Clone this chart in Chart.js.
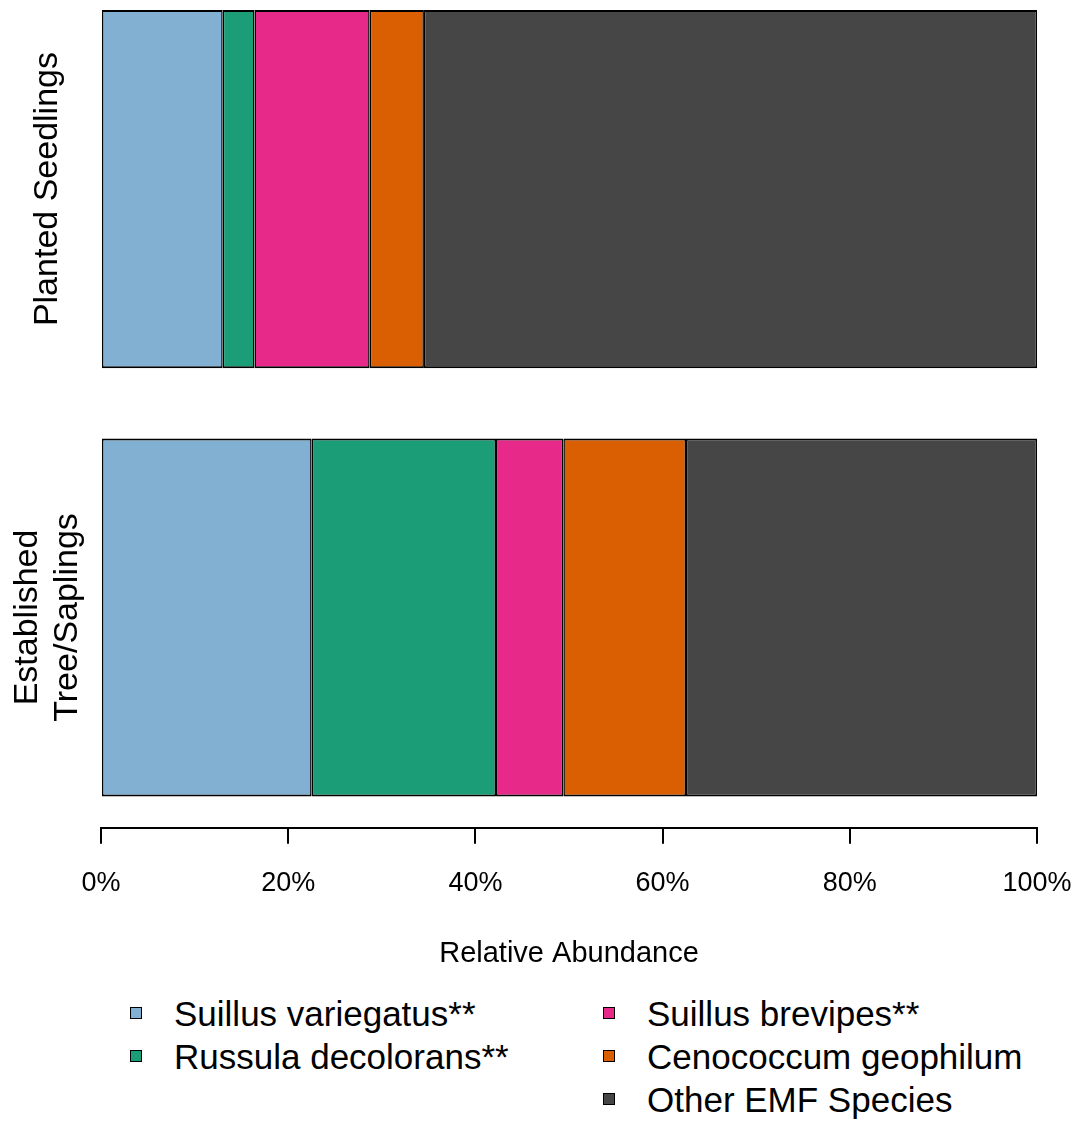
<!DOCTYPE html>
<html><head><meta charset="utf-8">
<script src="https://cdn.jsdelivr.net/npm/chart.js@4/dist/chart.umd.min.js"></script>
<style>
html,body{margin:0;padding:0;background:#fff;}
#wrap{position:relative;width:1091px;height:1126px;overflow:hidden;}
canvas{position:absolute;left:0;top:0;}
#legend{position:absolute;left:0;top:992px;width:1091px;font-family:"Liberation Sans",Arial,sans-serif;font-size:35px;color:#000;}
.item{position:absolute;height:43px;line-height:43px;white-space:nowrap;}
.box{position:absolute;left:0;top:15px;width:10px;height:10px;border:1px solid #000;}
.txt{position:absolute;left:44px;top:0;}
</style></head><body>
<div id="wrap"><canvas id="c" width="1091" height="975"></canvas><div id="legend"></div></div>
<script>
// ---- data ----
const categories = ['Planted Seedlings', 'Established\nTree/Saplings'];
const species = ['Suillus variegatus**', 'Russula decolorans**', 'Suillus brevipes**', 'Cenococcum geophilum', 'Other EMF Species'];
const suillusVariegatus = [13.0, 22.5];
const russulaDecolorans = [3.4, 19.7];
const suillusBrevipes = [12.3, 7.2];
const cenococcumGeophilum = [5.8, 13.1];
const otherEMF = [65.5, 37.5];
const xTicks = [0, 20, 40, 60, 80, 100];
const xTitle = 'Relative Abundance';

// ---- styles ----
const colors = ['#82B0D2', '#1B9E77', '#E7298A', '#D95F02', '#464646'];
const FONT = '"Liberation Sans", Arial, sans-serif';
const seriesValues = [suillusVariegatus, russulaDecolorans, suillusBrevipes, cenococcumGeophilum, otherEMF];

const datasets = seriesValues.map((vals, k) => ({
  label: species[k],
  data: vals.map((v, i) => ({ x: v, y: i })),
  backgroundColor: colors[k],
  borderColor: '#000',
  borderWidth: { top: 2, bottom: 2, left: 1.5, right: 1.5 },
  borderSkipped: false,
  categoryPercentage: 1,
  barPercentage: 0.836
}));

const yLabelPlugin = {
  id: 'yLabels',
  afterDraw(chart) {
    const ctx = chart.ctx, ys = chart.scales.y;
    ctx.save();
    ctx.font = '34px ' + FONT;
    ctx.fillStyle = '#000';
    ctx.textAlign = 'center';
    ctx.textBaseline = 'middle';
    categories.forEach((lab, i) => {
      const lines = lab.split('\n');
      const py = ys.getPixelForValue(i);
      ctx.save();
      ctx.translate(48, py);
      ctx.rotate(-Math.PI / 2);
      lines.forEach((ln, j) => ctx.fillText(ln, 0, (j - (lines.length - 1) / 2) * 40));
      ctx.restore();
    });
    ctx.restore();
  }
};

const chart = new Chart(document.getElementById('c'), {
  type: 'bar',
  data: { datasets },
  options: {
    responsive: false,
    animation: false,
    devicePixelRatio: 1,
    indexAxis: 'y',
    layout: { padding: { left: 101, right: 54, top: 10, bottom: 4 } },
    plugins: { legend: { display: false }, tooltip: { enabled: false } },
    scales: {
      x: {
        type: 'linear', min: 0, max: 100, stacked: true,
        afterBuildTicks: s => { s.ticks = xTicks.map(v => ({ value: v })); },
        afterFit: s => { s.paddingLeft = 0; s.paddingRight = 0; },
        ticks: { callback: v => v + '%', color: '#000', font: { family: FONT, size: 27 }, padding: 24, maxRotation: 0 },
        grid: { drawOnChartArea: false, drawTicks: true, tickLength: 16, color: '#000', lineWidth: 2 },
        border: { display: true, color: '#000', width: 2 },
        title: { display: true, text: xTitle, color: '#000', font: { family: FONT, size: 29 }, padding: { top: 12, bottom: 0 } }
      },
      y: {
        type: 'linear', reverse: true, offset: false, min: -0.418, max: 1.491, stacked: true, display: false,
        afterBuildTicks: s => { s.ticks = categories.map((c, i) => ({ value: i })); }
      }
    }
  },
  plugins: [yLabelPlugin]
});

// ---- HTML legend built from the chart's datasets ----
const legendCols = [[0, 1], [2, 3, 4]];
const colLeft = [130, 603];
const leg = document.getElementById('legend');
legendCols.forEach((idxs, c) => {
  idxs.forEach((k, r) => {
    const ds = chart.data.datasets[k];
    const it = document.createElement('div');
    it.className = 'item';
    it.style.left = colLeft[c] + 'px';
    it.style.top = (r * 43) + 'px';
    const b = document.createElement('div');
    b.className = 'box';
    b.style.background = ds.backgroundColor;
    const t = document.createElement('div');
    t.className = 'txt';
    t.textContent = ds.label;
    it.appendChild(b); it.appendChild(t);
    leg.appendChild(it);
  });
});
</script>
</body></html>
